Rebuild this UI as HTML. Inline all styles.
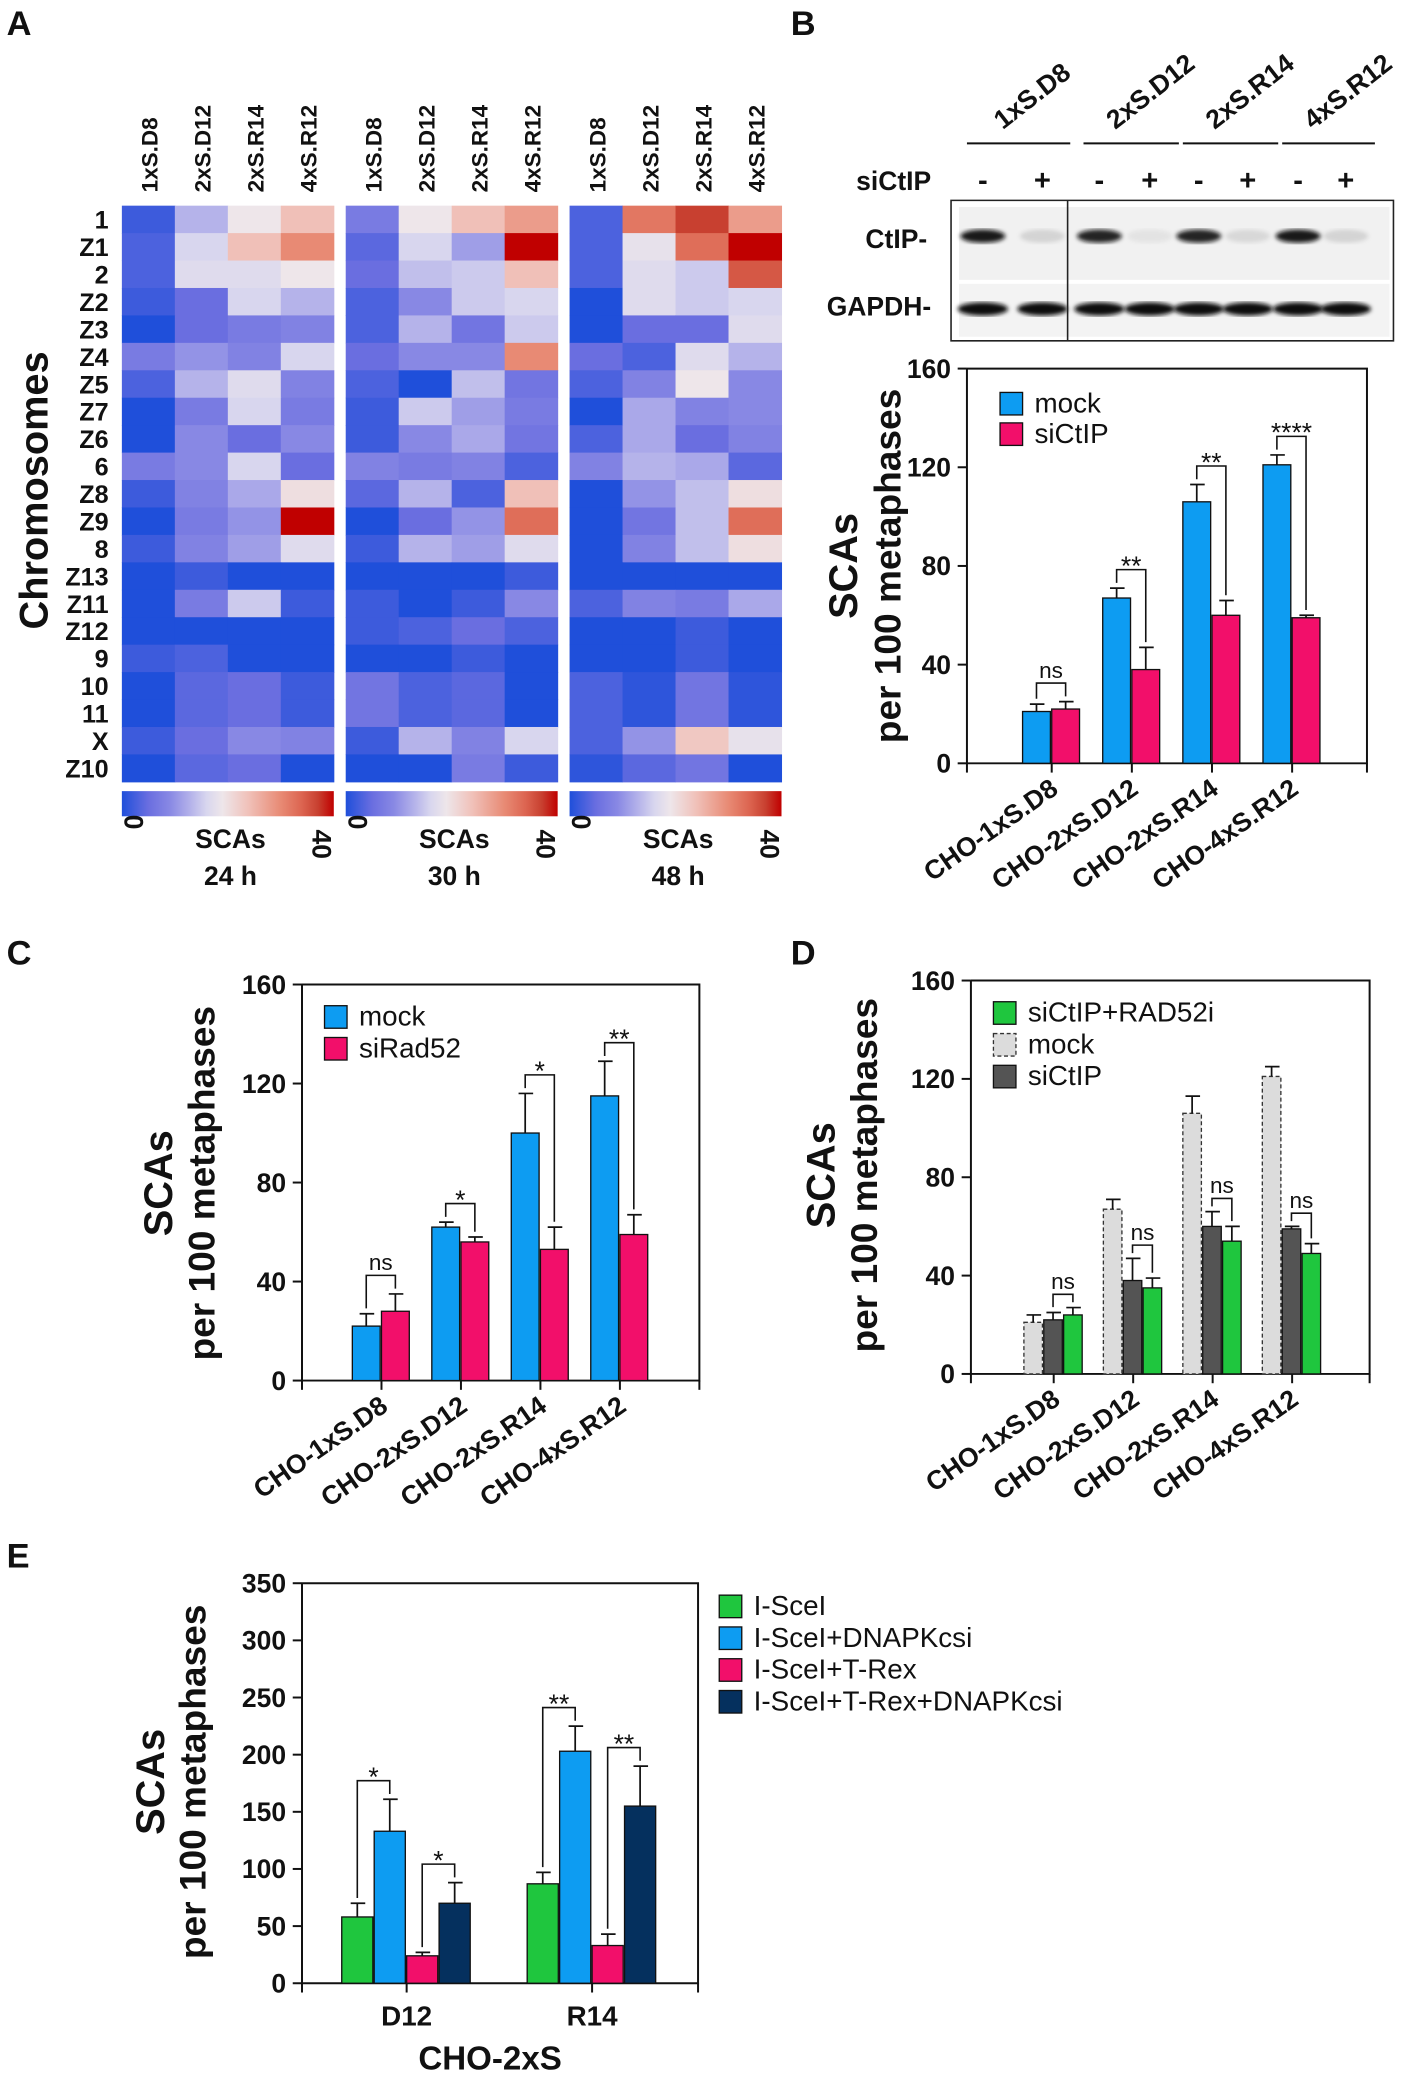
<!DOCTYPE html>
<html><head><meta charset="utf-8"><style>
html,body{margin:0;padding:0;background:#fff;}
svg{display:block;font-family:"Liberation Sans",Arial,sans-serif;}
</style></head><body>
<svg id="fig" width="1412" height="2075" viewBox="0 0 1066 1566" xmlns="http://www.w3.org/2000/svg">
<defs>
<filter id="blur1"><feGaussianBlur stdDeviation="1.6"/></filter>
<linearGradient id="cbar" x1="0" x2="1" y1="0" y2="0"></linearGradient>
</defs>
</svg>
<script>
// ---------- Data ----------
const hmRows = ["1","Z1","2","Z2","Z3","Z4","Z5","Z7","Z6","6","Z8","Z9","8","Z13","Z11","Z12","9","10","11","X","Z10"];
const hmCols = ["1xS.D8","2xS.D12","2xS.R14","4xS.R12"];
const hmTimes = ["24 h","30 h","48 h"];
const hm24 = [[2,13,19,24],[3,16,24,30],[3,17,17,19],[2,5,16,13],[0,5,7,8],[7,10,8,16],[3,13,17,8],[0,7,16,7],[0,9,5,9],[7,9,16,5],[2,8,12,20],[0,7,10,40],[2,8,11,17],[0,2,0,0],[0,7,15,2],[0,0,0,0],[2,3,0,0],[0,4,5,2],[0,4,5,2],[2,5,9,8],[0,4,5,0]];
const hm30 = [[7,19,24,28],[4,16,11,40],[5,14,15,24],[3,9,15,16],[3,13,6,15],[5,9,9,30],[3,0,14,6],[2,15,11,7],[2,9,12,6],[8,7,8,3],[4,13,3,24],[0,5,10,33],[2,13,11,17],[0,0,0,2],[2,0,2,9],[2,3,5,3],[0,0,2,0],[6,3,4,0],[6,3,4,0],[2,13,8,16],[0,0,7,2]];
const hm48 = [[3,32,37,28],[3,18,33,40],[3,17,15,35],[0,17,15,16],[0,5,5,17],[5,3,17,13],[3,8,19,9],[0,12,8,9],[3,12,5,8],[8,13,12,4],[0,10,14,20],[0,6,14,33],[0,8,14,20],[0,0,0,0],[3,8,7,12],[0,0,2,0],[0,0,2,0],[3,1,6,1],[3,1,6,1],[3,10,23,18],[1,4,6,0]];

const lines = ["CHO-1xS.D8","CHO-2xS.D12","CHO-2xS.R14","CHO-4xS.R12"];
const bMock = [21,67,106,121];
const bMockErr = [3,4,7,4];
const bSi = [22,38,60,59];
const bSiErr = [3,9,6,1];
const bSig = ["ns","**","**","****"];

const cMock = [22,62,100,115];
const cMockErr = [5,2,16,14];
const cRad = [28,56,53,59];
const cRadErr = [7,2,9,8];
const cSig = ["ns","*","*","**"];

const dMock = [21,67,106,121];
const dMockErr = [3,4,7,4];
const dSi = [22,38,60,59];
const dSiErr = [3,9,6,1];
const dGreen = [24,35,54,49];
const dGreenErr = [3,4,6,4];
const dSig = ["ns","ns","ns","ns"];

const eGroups = ["D12","R14"];
const eSce = [58,87];
const eSceErr = [12,10];
const eDna = [133,203];
const eDnaErr = [28,22];
const eTrex = [24,33];
const eTrexErr = [3,10];
const eTrexDna = [70,155];
const eTrexDnaErr = [18,35];
const eSigA = ["*","**"];
const eSigB = ["*","**"];

const ticks160 = [0,40,80,120,160];
const ticks350 = [0,50,100,150,200,250,300,350];

// ---------- helpers ----------
const svg = document.getElementById('fig');
const NS = "http://www.w3.org/2000/svg";
function mk(tag, parent){ const e=document.createElementNS(NS,tag); (parent||svg).appendChild(e); return e; }
function attrs(e,o){ for(const k in o) e.setAttribute(k,o[k]); return e; }
function txt(parent,s,x,y,size,weight,anchor,rot){
  const t=mk('text',parent); attrs(t,{x:x,y:y,'font-size':size,'font-weight':weight||'normal','text-anchor':anchor||'start',fill:'#111'});
  if(rot) t.setAttribute('transform','rotate('+rot+' '+x+' '+y+')');
  t.textContent=s; return t;
}
function hex(c){return [parseInt(c.substr(1,2),16),parseInt(c.substr(3,2),16),parseInt(c.substr(5,2),16)];}
const cStops=[[0,'#1f4fda'],[5,'#6a6ee0'],[9,'#8888e4'],[13,'#b5b3ea'],[16,'#d8d6ee'],[19,'#eee6ea'],[24,'#f0c0b8'],[30,'#e88a74'],[34,'#dc6450'],[37,'#c84030'],[40,'#c00000']];
function cmap(v){
  for(let i=0;i<cStops.length-1;i++){const a=cStops[i],b=cStops[i+1];
    if(v<=b[0]){const t=(v-a[0])/(b[0]-a[0]);const A=hex(a[1]),B=hex(b[1]);
      return 'rgb('+A.map((x,j)=>Math.round(x+(B[j]-x)*t)).join(',')+')';}}
  return '#c00000';
}
const grad=document.getElementById('cbar');
cStops.forEach(s=>{const st=mk('stop',grad); attrs(st,{offset:(s[0]/40*100)+'%','stop-color':s[1]});});

// ---------- Panel A ----------
const gA=mk('g');  
const pa=txt(gA,'A',5,26,26,'bold');  
const yt=txt(gA,'Chromosomes',36,370,30,'bold','middle',-90);
 
const hmData=[hm24,hm30,hm48];
const pX=[92,261,430], pW=160, hTop=155, hBot=590;
const rh=(hBot-hTop)/hmRows.length, cw=pW/hmCols.length;
hmRows.forEach((r,i)=>{const t=txt(gA,r,82,hTop+rh*(i+0.5)+7,19,'bold','end');
   });
hmData.forEach((d,p)=>{
  const g=mk('g',gA);  
  hmCols.forEach((c,j)=>{const x=pX[p]+cw*(j+0.5)+7; const t=txt(g,c,x,145,17,'bold','start',-90);
     });
  d.forEach((row,i)=>row.forEach((v,j)=>{
    const r=mk('rect',g); attrs(r,{x:pX[p]+cw*j,y:hTop+rh*i,width:cw+0.4,height:rh+0.4,fill:cmap(v)});
     
  }));
  const cb=mk('rect',g); attrs(cb,{x:pX[p],y:597,width:pW,height:19,fill:'url(#cbar)'});
   
  const z=txt(g,'0',pX[p]+2,626,20,'bold','end',90);  
  const f=txt(g,'40',pX[p]+pW-16,626,20,'bold','start',90);  
  const s=txt(g,'SCAs',pX[p]+82,640,20,'bold','middle');  
  const h=txt(g,hmTimes[p],pX[p]+82,668,20,'bold','middle');  
});

// ---------- bar chart helper ----------
function barChart(o){
  const g=mk('g');  
  const ys=v=>o.y0-(v/o.max)*(o.y0-o.yTop);
  const ax=mk('path',g); attrs(ax,{d:'M'+o.x0+' '+o.yTop+' V'+o.y0+' H'+o.x1+(o.box?' V'+o.yTop+' H'+o.x0:''),fill:'none',stroke:'#111','stroke-width':1.5});
   
  o.ticks.forEach(t=>{const y=ys(t); const l=mk('line',g); attrs(l,{x1:o.x0-7,x2:o.x0,y1:y,y2:y,stroke:'#111','stroke-width':1.5});
     
    const tl=txt(g,String(t),o.x0-12,y+7,20,'bold','end');  });
  [o.x0,o.x1].forEach(x=>{const l=mk('line',g); attrs(l,{x1:x,x2:x,y1:o.y0,y2:o.y0+7,stroke:'#111','stroke-width':1.5});
     });
  const t1=txt(g,'SCAs',o.ytX1,o.ytY,30,'bold','middle',-90);  
  const t2=txt(g,'per 100 metaphases',o.ytX2,o.ytY,28,'bold','middle',-90);  
  const tops=[];
  o.cats.forEach((c,i)=>{
    const gx=o.start+i*o.step; tops.push([]);
    o.series.forEach((s,k)=>{
      const x=gx+k*o.bw, v=s.vals[i], e=s.err[i], y=ys(v);
      const r=mk('rect',g); attrs(r,{x:x,y:y,width:o.bw-1,height:o.y0-y,fill:s.color,stroke:s.stroke||'#111','stroke-width':1});
      if(s.dash) r.setAttribute('stroke-dasharray','3,2');
       
      const ye=ys(v+e), cx=x+(o.bw-1)/2;
      const el=mk('path',g); attrs(el,{d:'M'+cx+' '+y+' V'+ye+' M'+(cx-5)+' '+ye+' H'+(cx+6),stroke:'#111','stroke-width':1.3,fill:'none'});
       
      tops[i].push([cx,ye]);
    });
    const tx=gx+o.bw*o.series.length/2; const l=mk('line',g); attrs(l,{x1:tx,x2:tx,y1:o.y0,y2:o.y0+7,stroke:'#111','stroke-width':1.5});
     
    if(o.rotLabels){const lx=gx+o.bw*o.series.length/2+6, ly=o.y0+22;
      const t=txt(g,c,lx,ly,20,'bold','end',-35);  }
  });
  (o.sigs||[]).forEach(sg=>{
    o.cats.forEach((c,i)=>{
      const a=tops[i][sg.a], b=tops[i][sg.b];
      const top=Math.min(a[1],b[1])-(sg.off||14);
      const p=mk('path',g); attrs(p,{d:'M'+a[0]+' '+(a[1]-4)+' V'+top+' H'+b[0]+' V'+(b[1]-4),stroke:'#111','stroke-width':1.2,fill:'none'});
       
      const s=sg.labels[i]; const t=txt(g,s,(a[0]+b[0])/2,top-(s==='ns'?4:-4),s==='ns'?17:20,'normal','middle');
       
    });
  });
  return g;
}
function legend(parent,items,x,y0,dy,size){
  items.forEach((it,i)=>{const y=y0+i*dy;
    const r=mk('rect',parent); attrs(r,{x:x,y:y-15,width:17,height:17,fill:it.color,stroke:it.stroke||'#111','stroke-width':1});
    if(it.dash) r.setAttribute('stroke-dasharray','3,2');
     
    const t=txt(parent,it.label,x+26,y,size||21,'normal','start');  });
}
const BLUE='#0d9cf2', PINK='#f20f6a', GREEN='#1fc63e', NAVY='#05305e', LG='#dcdcdc', DG='#545454';

// ---------- Panel B ----------
const gBb=mk('g');  
const pb=txt(gBb,'B',597,26,26,'bold');  
const blotNames=['1xS.D8','2xS.D12','2xS.R14','4xS.R12'];
const laneX=[742,787,830,868,905,942,980,1016];
const hdr=[[730,808],[818,890],[893,965],[968,1038]];
blotNames.forEach((n,i)=>{const l=mk('line',gBb); attrs(l,{x1:hdr[i][0],x2:hdr[i][1],y1:108,y2:108,stroke:'#111','stroke-width':1.5});
   
  const t=txt(gBb,n,(hdr[i][0]+hdr[i][1])/2-12,98,20,'bold','start',-38);  });
const sl=txt(gBb,'siCtIP',703,143,20,'bold','end');  
laneX.forEach((x,i)=>{const t=txt(gBb,i%2?'+':'-',x,143,22,'bold','middle');  });
const cl=txt(gBb,'CtIP-',700,187,20,'bold','end');  
const gl=txt(gBb,'GAPDH-',703,238,20,'bold','end');  
const bg1=mk('rect',gBb); attrs(bg1,{x:724,y:156,width:325,height:55,fill:'#f1f1f1'});  
const bg2=mk('rect',gBb); attrs(bg2,{x:724,y:214,width:325,height:40,fill:'#f3f3f3'});  
const ctipI=[0.95,0.12,0.9,0.06,0.9,0.1,0.95,0.12];
laneX.forEach((x,i)=>{
  const b=mk('ellipse',gBb); attrs(b,{cx:x,cy:178,rx:17,ry:5,fill:'#111','fill-opacity':ctipI[i],filter:'url(#blur1)'});
   
  const g2=mk('ellipse',gBb); attrs(g2,{cx:x,cy:233,rx:19,ry:5,fill:'#111',filter:'url(#blur1)'});
   
});
const bf=mk('path',gBb); attrs(bf,{d:'M718 151 H1052 V257 H718 Z M806 151 V257',fill:'none',stroke:'#222','stroke-width':1.2});
 

const gB=barChart({name:'panel-b-chart',x0:730,x1:1032,y0:576,yTop:278,max:160,ticks:ticks160,box:true,rotLabels:true,
  ytX1:647,ytX2:680,ytY:427,cats:lines,start:772,step:60.5,bw:22,
  series:[{key:'mock',vals:bMock,err:bMockErr,color:BLUE},{key:'sictip',vals:bSi,err:bSiErr,color:PINK}],
  sigs:[{a:0,b:1,labels:bSig}]});
legend(gB,[{key:'mock',label:'mock',color:BLUE},{key:'sictip',label:'siCtIP',color:PINK}],755,311,23);

// ---------- Panel C ----------
const gC=barChart({name:'panel-c-chart',x0:228,x1:528,y0:1042,yTop:743,max:160,ticks:ticks160,box:true,rotLabels:true,
  ytX1:130,ytX2:162,ytY:893,cats:lines,start:266,step:60,bw:22,
  series:[{key:'mock',vals:cMock,err:cMockErr,color:BLUE},{key:'sirad52',vals:cRad,err:cRadErr,color:PINK}],
  sigs:[{a:0,b:1,labels:cSig}]});
const pc=txt(gC,'C',5,728,26,'bold');  
legend(gC,[{key:'mock',label:'mock',color:BLUE},{key:'sirad52',label:'siRad52',color:PINK}],245,774,24);

// ---------- Panel D ----------
const gD=barChart({name:'panel-d-chart',x0:733,x1:1034,y0:1037,yTop:740,max:160,ticks:ticks160,box:true,rotLabels:true,
  ytX1:630,ytX2:662,ytY:887,cats:lines,start:773,step:60,bw:15,
  series:[{key:'mock',vals:dMock,err:dMockErr,color:LG,stroke:'#333',dash:true},{key:'sictip',vals:dSi,err:dSiErr,color:DG},{key:'sictip-rad52i',vals:dGreen,err:dGreenErr,color:GREEN}],
  sigs:[{a:1,b:2,labels:dSig,off:10}]});
const pd=txt(gD,'D',597,728,26,'bold');  
legend(gD,[{key:'sictip-rad52i',label:'siCtIP+RAD52i',color:GREEN},{key:'mock',label:'mock',color:LG,stroke:'#333',dash:true},{key:'sictip',label:'siCtIP',color:DG}],750,771,24);

// ---------- Panel E ----------
const gE=barChart({name:'panel-e-chart',x0:228,x1:527,y0:1497,yTop:1195,max:350,ticks:ticks350,box:true,rotLabels:false,
  ytX1:124,ytX2:155,ytY:1345,cats:eGroups,start:258,step:140,bw:24.5,
  series:[{key:'isce',vals:eSce,err:eSceErr,color:GREEN},{key:'isce-dnapkcsi',vals:eDna,err:eDnaErr,color:BLUE},{key:'isce-trex',vals:eTrex,err:eTrexErr,color:PINK},{key:'isce-trex-dnapkcsi',vals:eTrexDna,err:eTrexDnaErr,color:NAVY}],
  sigs:[{a:0,b:1,labels:eSigA},{a:2,b:3,labels:eSigB}]});
eGroups.forEach((c,i)=>{const t=txt(gE,c,258+i*140+49,1529,21,'bold','middle');  });
const xe=txt(gE,'CHO-2xS',370,1562,25,'bold','middle');  
const pe=txt(gE,'E',5,1183,26,'bold');  
legend(gE,[{key:'isce',label:'I-SceI',color:GREEN},{key:'isce-dnapkcsi',label:'I-SceI+DNAPKcsi',color:BLUE},{key:'isce-trex',label:'I-SceI+T-Rex',color:PINK},{key:'isce-trex-dnapkcsi',label:'I-SceI+T-Rex+DNAPKcsi',color:NAVY}],543,1219,24);
</script>
</body></html>
